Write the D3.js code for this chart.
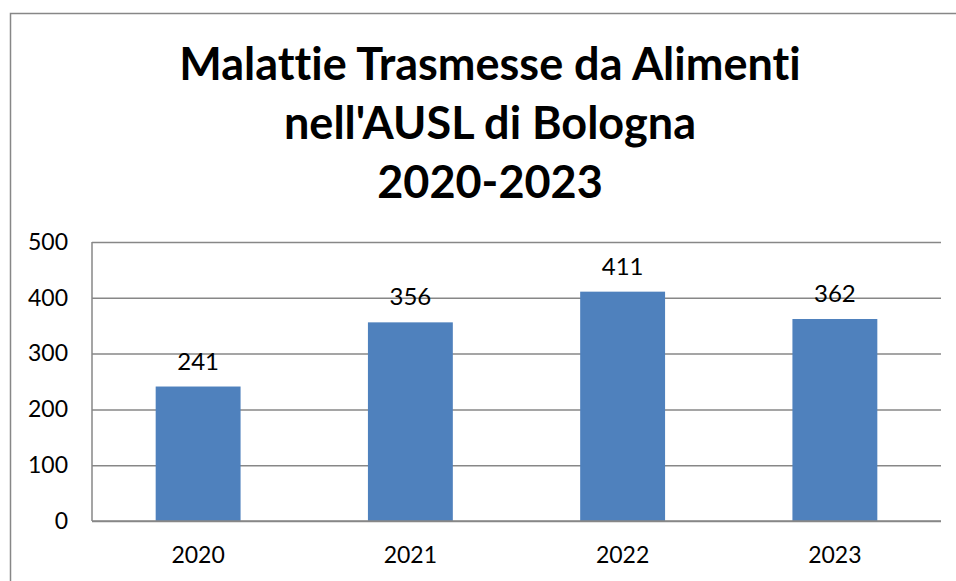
<!DOCTYPE html>
<html><head><meta charset="utf-8">
<script src="https://cdn.jsdelivr.net/npm/d3@7"></script>
<style>body{margin:0;background:#fff}svg{display:block}text{font-family:Lato,"Open Sans",sans-serif;font-variant-ligatures:none;font-feature-settings:"liga" 0,"clig" 0}</style>
</head><body>
<script>
const titleLines = ["Malattie Trasmesse da Alimenti", "nell'AUSL di Bologna", "2020-2023"];
const categories = ["2020", "2021", "2022", "2023"];
const values = [241, 356, 411, 362];
const yTicks = [0, 100, 200, 300, 400, 500];

const W = 956, H = 581;
const svg = d3.select("body").append("svg").attr("width", W).attr("height", H);

svg.append("rect").attr("x", 10.5).attr("y", 13.5).attr("width", 960).attr("height", 600)
  .attr("fill", "#fff").attr("stroke", "#878787").attr("stroke-width", 1.5);

const plot = {left: 92, right: 941, top: 242, bottom: 521};
const x = d3.scaleBand().domain(categories).range([plot.left, plot.right]).paddingInner(0.6).paddingOuter(0.3);
const y = d3.scaleLinear().domain([0, 500]).range([plot.bottom, plot.top]);

svg.append("g").selectAll("text").data(titleLines).join("text")
  .attr("x", 490).attr("y", (d, i) => 80 + i * 59)
  .attr("text-anchor", "middle").attr("font-weight", "bold").attr("font-size", 45)
  .attr("fill", "#000").text(d => d);

const yAxis = d3.axisLeft(y).tickValues(yTicks).tickSize(-(plot.right - plot.left)).tickPadding(24);
const gy = svg.append("g").attr("transform", `translate(${plot.left},0)`).call(yAxis);
gy.select(".domain").remove();
gy.selectAll(".tick line").attr("stroke", "#878787").attr("stroke-width", 1.5);
gy.selectAll(".tick text").attr("font-size", 23).attr("fill", "#000").attr("font-family", "Lato");

svg.append("line").attr("x1", plot.left).attr("x2", plot.left).attr("y1", plot.top).attr("y2", plot.bottom)
  .attr("stroke", "#878787").attr("stroke-width", 1.5);

svg.append("g").selectAll("rect").data(values).join("rect")
  .attr("x", (d, i) => x(categories[i])).attr("width", x.bandwidth())
  .attr("y", d => y(d)).attr("height", d => y(0) - y(d)).attr("fill", "#4F81BD");

svg.append("line").attr("x1", plot.left).attr("x2", plot.right).attr("y1", y(0)).attr("y2", y(0))
  .attr("stroke", "#878787").attr("stroke-width", 1.5);

const xAxis = d3.axisBottom(x).tickSize(0).tickPadding(26);
const gx = svg.append("g").attr("transform", `translate(0,${plot.bottom})`).call(xAxis);
gx.select(".domain").remove();
gx.selectAll(".tick text").attr("font-size", 23).attr("fill", "#000").attr("font-family", "Lato");

svg.append("g").selectAll("text").data(values).join("text")
  .attr("x", (d, i) => x(categories[i]) + x.bandwidth() / 2).attr("y", d => y(d) - 17)
  .attr("text-anchor", "middle").attr("font-size", 24).attr("fill", "#000").text(d => d);
</script>
</body></html>
